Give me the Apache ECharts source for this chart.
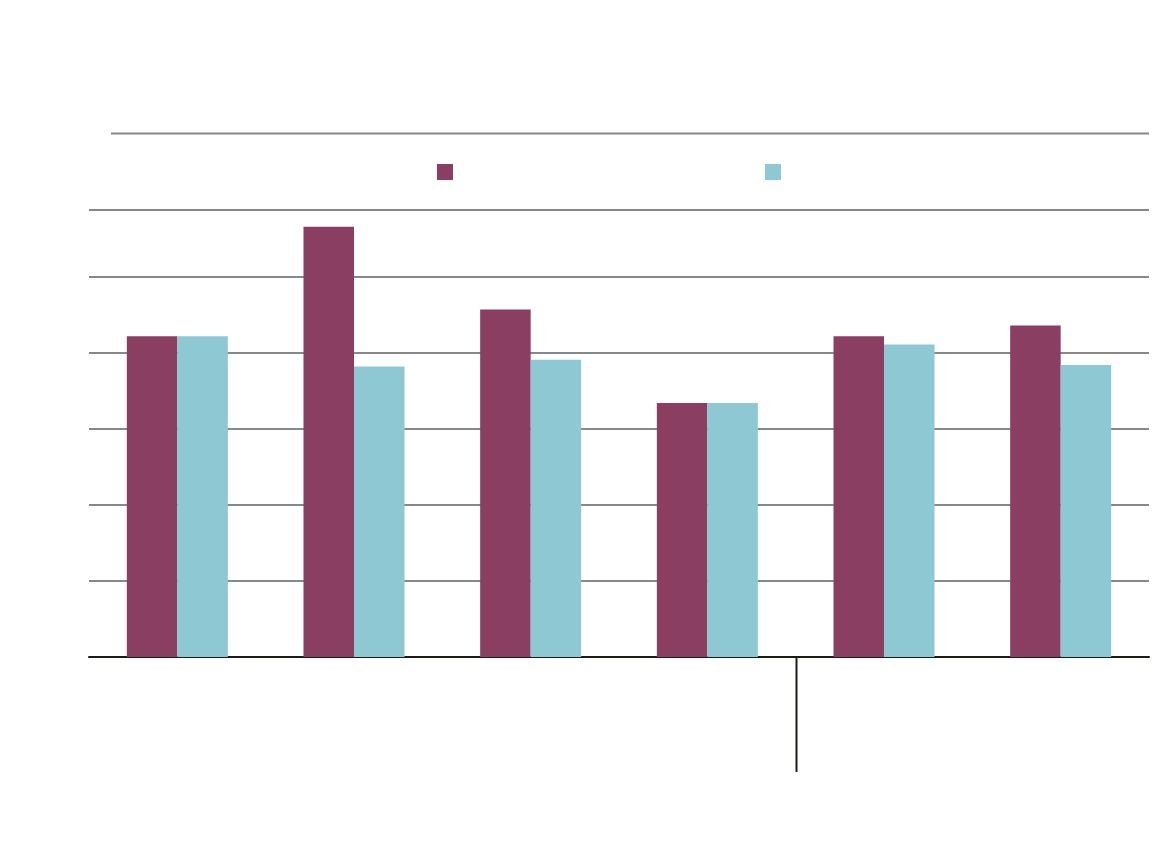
<!DOCTYPE html>
<html>
<head>
<meta charset="utf-8">
<script src="https://cdn.jsdelivr.net/npm/echarts@6/dist/echarts.min.js"></script>
<style>html,body{margin:0;padding:0;background:#fff}#c{width:1160px;height:846px}</style>
</head>
<body>
<div id="c"></div>
<script>
const categories = ['1', '2', '3', '4', '5', '6'];
const seriesNames = ['Series A', 'Series B'];
const seriesA = [42.2, 56.6, 45.7, 33.4, 42.2, 43.6];
const seriesB = [42.2, 38.2, 39.1, 33.4, 41.1, 38.4];
const yMin = 0, yMax = 58.8, yInterval = 10;
const separatorAfter = 3; // separator between 4th and 5th category

const chart = echarts.init(document.getElementById('c'), null, {renderer: 'canvas'});
chart.setOption({
  animation: false,
  backgroundColor: '#ffffff',
  legend: {
    data: seriesNames,
    left: 437, top: 164, padding: 0,
    itemWidth: 16, itemHeight: 16, itemGap: 312,
    icon: 'rect',
    formatter: () => '',
    textStyle: {fontSize: 1},
    selectedMode: false
  },
  grid: {left: 89, right: 11, top: 210, bottom: 189, containLabel: false},
  xAxis: {
    type: 'category', data: categories, boundaryGap: true,
    axisLine: {show: true, lineStyle: {color: '#1c1c14', width: 2}},
    axisTick: {show: false},
    axisLabel: {show: false},
    splitLine: {show: false}
  },
  yAxis: {
    type: 'value', min: yMin, max: yMax, interval: yInterval,
    axisLabel: {show: false}, axisLine: {show: false}, axisTick: {show: false},
    splitLine: {show: true, lineStyle: {color: '#888888', width: 2}}
  },
  series: [
    {name: seriesNames[0], type: 'bar', data: seriesA, barWidth: 50.5, barGap: '0%', itemStyle: {color: '#8a3e61'}},
    {name: seriesNames[1], type: 'bar', data: seriesB, barWidth: 50.5, itemStyle: {color: '#8ec8d2'}}
  ]
});
// separator at the boundary between two categories, from the library's scale
const c0 = chart.convertToPixel({xAxisIndex: 0}, separatorAfter);
const c1 = chart.convertToPixel({xAxisIndex: 0}, separatorAfter + 1);
const sepX = Math.round((c0 + c1) / 2) + 0.5;
const baseY = chart.convertToPixel({yAxisIndex: 0}, 0);
chart.setOption({
  graphic: [
    {type: 'line', shape: {x1: 111, y1: 133.5, x2: 1149, y2: 133.5}, style: {stroke: '#888888', lineWidth: 2}},
    {type: 'line', shape: {x1: sepX, y1: baseY, x2: sepX, y2: baseY + 115}, style: {stroke: '#1c1c14', lineWidth: 2}}
  ]
});
</script>
</body>
</html>
